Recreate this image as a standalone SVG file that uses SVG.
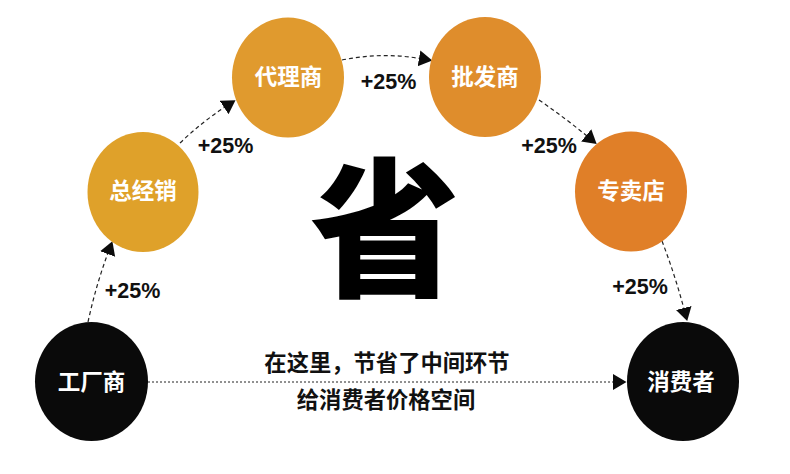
<svg xmlns="http://www.w3.org/2000/svg" width="790" height="474" viewBox="0 0 790 474">
<style>
.cjk{font-family:"Noto Sans CJK SC","Liberation Sans",sans-serif;text-anchor:middle}
.n{font-size:22.500px;font-weight:700;fill:#fff}
.t{font-size:22.300px;font-weight:700;fill:#111}
.p{font-family:"Liberation Sans",Arial,sans-serif;font-size:21.500px;font-weight:700;fill:#111;text-anchor:middle}
.c{fill:none;stroke:#222;stroke-width:1.200;stroke-dasharray:4 3}
.d{fill:none;stroke:#222;stroke-width:1;stroke-dasharray:2 2}
</style>
<defs>
<marker id="a" markerUnits="userSpaceOnUse" markerWidth="16" markerHeight="18" refX="1" refY="8" orient="auto">
<path d="M0 0L13.500 8L0 16Z" fill="#0c0c0c"/>
</marker>
</defs>
<rect width="790" height="474" fill="#fff"/>
<g id="connectors">
<path class="c" d="M88 322Q96 285 108 253" marker-end="url(#a)"/>
<path class="c" d="M180 143Q202 122 225 107" marker-end="url(#a)"/>
<path class="c" d="M342 60Q382 52 420 58.500" marker-end="url(#a)"/>
<path class="c" d="M539 100Q565 118 587 136" marker-end="url(#a)"/>
<path class="c" d="M662 241Q675 275 684 309" marker-end="url(#a)"/>
<path class="d" d="M148 382H614" marker-end="url(#a)"/>
</g>
<g id="n-factory"><ellipse cx="91.500" cy="381.500" rx="56.500" ry="59.500" fill="#0a0a0a"/><text class="cjk n" x="91.500" y="389.500">工厂商</text></g>
<g id="n-distributor"><ellipse cx="143" cy="192" rx="55.500" ry="60" fill="#dfa12a"/><text class="cjk n" x="143" y="199">总经销</text></g>
<g id="n-agent"><ellipse cx="288" cy="77.500" rx="56" ry="60" fill="#e09a2e"/><text class="cjk n" x="288.500" y="85">代理商</text></g>
<g id="n-wholesaler"><ellipse cx="485" cy="77" rx="56" ry="60" fill="#df8d2c"/><text class="cjk n" x="485" y="85">批发商</text></g>
<g id="n-store"><ellipse cx="631" cy="191.500" rx="56" ry="60" fill="#e07f28"/><text class="cjk n" x="631" y="199">专卖店</text></g>
<g id="n-consumer"><ellipse cx="683" cy="381.500" rx="56" ry="59.500" fill="#0a0a0a"/><text class="cjk n" x="681" y="389.500">消费者</text></g>
<g id="labels">
<text class="p" x="132.500" y="298">+25%</text>
<text class="p" x="225.500" y="152.500">+25%</text>
<text class="p" x="388.500" y="88.500">+25%</text>
<text class="p" x="549" y="152.500">+25%</text>
<text class="p" x="640" y="294">+25%</text>
<text class="cjk" x="385" y="285" font-size="150" font-weight="900" fill="#000">省</text>
<text class="cjk t" x="387" y="371">在这里，节省了中间环节</text>
<text class="cjk t" x="386" y="408">给消费者价格空间</text>
</g>
</svg>
